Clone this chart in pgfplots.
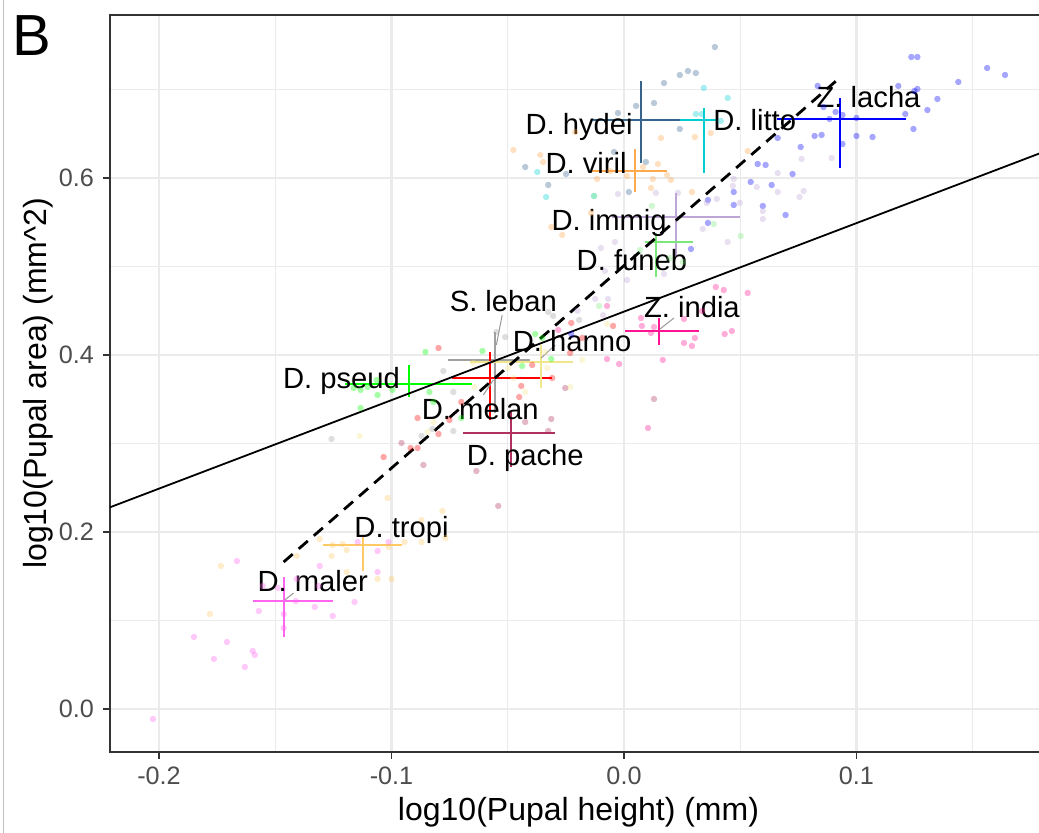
\documentclass[border=0pt]{standalone}
\usepackage{pgfplots}
\pgfplotsset{compat=1.18}
\usepackage{fontspec}
\setmainfont{Liberation Sans}
\definecolor{chydei}{HTML}{36648B}
\definecolor{clitto}{HTML}{00CED1}
\definecolor{clacha}{HTML}{0000FF}
\definecolor{cviril}{HTML}{FFA94F}
\definecolor{cimmig}{HTML}{BDA6D6}
\definecolor{cfuneb}{HTML}{7CE87C}
\definecolor{cleban}{HTML}{A0A0A0}
\definecolor{cmelan}{HTML}{FF0000}
\definecolor{channo}{HTML}{F0E68C}
\definecolor{cpseud}{HTML}{00FF00}
\definecolor{cpache}{HTML}{B03060}
\definecolor{cindia}{HTML}{FF1493}
\definecolor{ctropi}{HTML}{FFC966}
\definecolor{cmaler}{HTML}{FF66F0}
\definecolor{gridc}{HTML}{EBEBEB}
\definecolor{framec}{HTML}{333333}
\definecolor{tickc}{HTML}{4D4D4D}
\newcommand{\pts}[2]{\addplot[only marks, mark=*, mark size=1.6pt, color=#1, mark options={draw opacity=0, fill=#1, fill opacity=0.35}, forget plot] coordinates {#2};}
\newcommand{\crossbar}[7]{%
  \addplot[#1, line width=1pt, forget plot] coordinates {(#4,#3) (#5,#3)};
  \addplot[#1, line width=1pt, forget plot] coordinates {(#2,#6) (#2,#7)};}
\newcommand{\seg}[4]{\addplot[color=black!40, line width=0.5pt, forget plot] coordinates {(#1,#2) (#3,#4)};}
\newcommand{\labfont}{\fontsize{14.6}{16}\selectfont}
\newcommand{\lab}[3]{\node[anchor=base, inner sep=0pt, font=\labfont] at (axis cs:#1,#2) {#3};}
\begin{document}
\begin{tikzpicture}
\path[use as bounding box] (0,0) rectangle (519.5pt,416.5pt);
\draw[black!25, line width=0.5pt] (1.6pt,0) -- (1.6pt,416.5pt);
\node[anchor=base west, inner sep=0pt, font=\fontsize{29}{30}\selectfont] at (6pt,388.5pt) {B};
\begin{axis}[
  at={(55pt,40.5pt)}, anchor=south west,
  scale only axis, width=466pt, height=368.5pt,
  xmin=-0.2211, xmax=0.1798, ymin=-0.0486, ymax=0.7842,
  xtick={-0.2,-0.1,0,0.1}, xticklabels={-0.2,-0.1,0.0,0.1},
  ytick={0,0.2,0.4,0.6}, yticklabels={0.0,0.2,0.4,0.6},
  minor xtick={-0.15,-0.05,0.05,0.15}, minor ytick={0.1,0.3,0.5,0.7},
  grid=both,
  major grid style={gridc, line width=1.1pt},
  minor grid style={gridc, line width=0.55pt},
  minor tick length=0pt,
  tick align=outside, major tick length=3.3pt, tick pos=left,
  tick style={framec, line width=0.8pt},
  axis line style={framec, line width=0.8pt},
  ticklabel style={font=\fontsize{12.6}{14}\selectfont, text=tickc},
  xticklabel style={anchor=base, yshift=-13pt},
  yticklabel style={anchor=east, inner sep=0pt, xshift=-4.5pt},
  xlabel={log10(Pupal height) (mm)},
  ylabel={log10(Pupal area) (mm\textasciicircum 2)},
  label style={font=\fontsize{16}{18}\selectfont},
  xlabel style={at={(axis description cs:0.5027,-0.0936)}, anchor=base},
  ylabel style={at={(axis description cs:-0.0676,0.5)}, anchor=base},
  clip=true,
]
% ---- raw points ----
\pts{chydei}{(0.0391,0.748) (0.0240,0.7164) (0.0275,0.7209) (0.0309,0.7186) (0.0172,0.7073) (0.0129,0.6847) (0.0052,0.6814) (-0.0026,0.6734) (0.0240,0.6554) (0.0094,0.6181) (-0.0043,0.6294) (0.0021,0.5842) (-0.0326,0.5921) (-0.0425,0.6124) (-0.0249,0.6045)}
\pts{clitto}{(0.0343,0.7017) (0.0446,0.6904) (0.0309,0.6723) (0.0335,0.6723) (0.0416,0.6644) (-0.0373,0.6068) (-0.0335,0.5785) (-0.0129,0.5797)}
\pts{clacha}{(0.1236,0.7367) (0.1262,0.7367) (0.1562,0.7243) (0.1639,0.7164) (0.1438,0.7085) (0.0833,0.7040) (0.1180,0.7040) (0.1262,0.7006) (0.1249,0.6983) (0.1348,0.6893) (0.0910,0.6746) (0.0940,0.6712) (0.0884,0.6667) (0.1000,0.6678) (0.1210,0.6723) (0.1305,0.6768) (0.1245,0.6554) (0.0858,0.6802) (0.0820,0.6475) (0.0850,0.6486) (0.1000,0.6475) (0.1069,0.6463) (0.0940,0.6384) (0.0661,0.6452) (0.0760,0.6350) (0.0575,0.6158) (0.0609,0.6147) (0.0725,0.6045) (0.0545,0.5955) (0.0635,0.5921) (0.0472,0.5842) (0.0361,0.5751) (0.0472,0.5695) (0.0597,0.5684) (0.0695,0.5582) (0.0361,0.5492) (0.0288,0.5198) (-0.0227,0.4237)}
\pts{cviril}{(-0.0476,0.6316) (-0.0210,0.6520) (-0.0348,0.6181) (0.0159,0.6452) (0.0305,0.6463) (0.0373,0.6508) (0.0532,0.6305) (0.0082,0.6124) (0.0146,0.6158) (0.0013,0.6023) (-0.0116,0.5989) (0.0124,0.5989) (0.0185,0.6034) (0.0202,0.5977) (0.0116,0.5887) (0.0292,0.5842) (-0.0313,0.5446) (-0.0142,0.5605) (-0.0266,0.5356) (-0.0060,0.6079) (-0.0360,0.6260)}
\pts{cimmig}{(-0.0026,0.5819) (0.0137,0.5831) (0.0232,0.5831) (0.0399,0.5763) (0.0472,0.5989) (0.0468,0.5910) (0.0356,0.5718) (0.0498,0.5718) (0.0571,0.5898) (0.0661,0.6056) (0.0764,0.6215) (0.0773,0.5853) (0.0755,0.5785) (0.0597,0.5627) (0.0597,0.5537) (0.0661,0.5842) (0.0893,0.6226) (0.0446,0.5277) (0.0339,0.5424) (-0.0039,0.5277) (-0.0099,0.5209) (0.0013,0.4847) (-0.0082,0.4949) (-0.0069,0.4633) (-0.0124,0.4633) (0.0172,0.4915) (-0.0200,0.4500) (-0.0090,0.4450)}
\pts{cfuneb}{(0.0120,0.5684) (0.0386,0.5480) (0.0502,0.5345) (-0.0107,0.4554) (-0.0129,0.5797) (0.0197,0.5096) (0.0069,0.5186) (0.0253,0.5051)}
\pts{cleban}{(-0.0777,0.3819) (-0.0734,0.3582) (-0.0734,0.3141) (-0.1258,0.3051) (-0.0549,0.4260) (-0.0511,0.4203) (-0.0824,0.3164) (-0.0326,0.4486) (-0.0305,0.4441) (-0.0193,0.4395) (-0.0871,0.3085)}
\pts{cmelan}{(-0.0798,0.4079) (-0.0227,0.4362) (-0.0180,0.4192) (-0.0232,0.4023) (-0.0395,0.3887) (-0.0309,0.3740) (-0.0442,0.3650) (-0.0451,0.3525) (-0.0700,0.3469) (-0.0888,0.3288) (-0.0751,0.3266) (-0.0798,0.3107) (-0.0918,0.2949) (-0.0888,0.2949) (-0.1034,0.2847) (-0.0047,0.4328)}
\pts{channo}{(-0.0648,0.3910) (-0.0498,0.3853) (-0.0330,0.3853) (-0.0180,0.3944) (-0.0339,0.4034) (-0.0425,0.3582) (-0.0232,0.3638) (-0.0476,0.3740) (-0.0644,0.3638) (-0.0820,0.3243) (-0.0845,0.3130) (-0.1137,0.3085) (-0.0073,0.4350)}
\pts{cpseud}{(-0.1163,0.3627) (-0.1133,0.3605) (-0.1103,0.3638) (-0.1060,0.3548) (-0.0996,0.3605) (-0.1064,0.3718) (-0.1133,0.3401) (-0.0854,0.4034) (-0.0837,0.3582) (-0.0820,0.3469) (-0.0700,0.3288) (-0.0609,0.4045) (-0.0438,0.3876) (-0.0382,0.4237) (-0.0352,0.4192) (-0.0313,0.3955)}
\pts{cpache}{(-0.0253,0.3627) (-0.0313,0.3277) (-0.0425,0.3243) (-0.0326,0.3141) (-0.0635,0.2689) (-0.0541,0.2294) (-0.0863,0.2757) (-0.0957,0.3006) (0.0129,0.3503)}
\pts{cindia}{(0.0395,0.4768) (0.0429,0.4734) (0.0532,0.4701) (0.0073,0.4418) (0.0077,0.4328) (0.0129,0.4316) (0.0116,0.4249) (0.0258,0.4407) (0.0258,0.4136) (0.0305,0.4192) (0.0292,0.4102) (0.0433,0.4237) (0.0464,0.4271) (0.0167,0.3944) (0.0103,0.3175) (-0.0073,0.3955) (-0.0021,0.3898) (-0.0073,0.4554) (0.0335,0.4497) (-0.0283,0.4282)}
\pts{ctropi}{(-0.1309,0.1921) (-0.1253,0.1853) (-0.1210,0.1864) (-0.1193,0.1797) (-0.1258,0.1729) (-0.1408,0.1729) (-0.1193,0.1548) (-0.1060,0.1469) (-0.1000,0.1469) (-0.1013,0.1831) (-0.0944,0.1887) (-0.0871,0.1887) (-0.0768,0.1932) (-0.0781,0.2237) (-0.0871,0.2136) (-0.1017,0.2384) (-0.1734,0.1616) (-0.1781,0.1073)}
\pts{cmaler}{(-0.1665,0.1672) (-0.1309,0.1616) (-0.1408,0.1469) (-0.1554,0.1390) (-0.1489,0.1367) (-0.1313,0.1390) (-0.1412,0.1220) (-0.1330,0.1153) (-0.1159,0.1209) (-0.1253,0.1051) (-0.1571,0.1107) (-0.1464,0.1073) (-0.1464,0.0915) (-0.1850,0.0814) (-0.1708,0.0757) (-0.1764,0.0565) (-0.1597,0.0655) (-0.1588,0.0610) (-0.1631,0.0475) (-0.2026,-0.0113) (-0.1146,0.1887) (-0.1060,0.1785) (-0.1060,0.1548) (-0.1013,0.1887)}
% ---- species means with ranges ----
\crossbar{chydei}{0.0073}{0.6655}{-0.0133}{0.0240}{0.6169}{0.7096}
\crossbar{clitto}{0.0343}{0.6655}{0.0240}{0.0395}{0.6056}{0.6791}
\crossbar{clacha}{0.0927}{0.6667}{0.0657}{0.1215}{0.6113}{0.6904}
\crossbar{cviril}{0.0047}{0.6079}{-0.0137}{0.0185}{0.5842}{0.6328}
\crossbar{cimmig}{0.0223}{0.5559}{-0.0052}{0.0498}{0.5107}{0.5830}
\crossbar{cfuneb}{0.0137}{0.5277}{0.0090}{0.0296}{0.4881}{0.5379}
\crossbar{cleban}{-0.0554}{0.3944}{-0.0755}{-0.0403}{0.3345}{0.4260}
\crossbar{cmelan}{-0.0575}{0.3740}{-0.0738}{-0.0309}{0.3266}{0.4034}
\crossbar{channo}{-0.0356}{0.3921}{-0.0661}{-0.0219}{0.3627}{0.4113}
\crossbar{cpseud}{-0.0927}{0.3672}{-0.1200}{-0.0652}{0.3525}{0.3887}
\crossbar{cpache}{-0.0485}{0.3119}{-0.0691}{-0.0296}{0.2734}{0.3356}
\crossbar{cindia}{0.0150}{0.4271}{0.0004}{0.0322}{0.4113}{0.4418}
\crossbar{ctropi}{-0.1124}{0.1853}{-0.1296}{-0.0953}{0.1559}{0.1944}
\crossbar{cmaler}{-0.1464}{0.1220}{-0.1597}{-0.1253}{0.0814}{0.1492}
% ---- reference lines ----
\addplot[black, line width=0.9pt, forget plot] coordinates {(-0.2211,0.2279) (0.1798,0.6288)};
\addplot[black, line width=1.4pt, dash pattern=on 6pt off 4pt, forget plot] coordinates {(-0.1464,0.1661) (0.0927,0.7130)};
% ---- label segments ----
\seg{-0.0524}{0.4452}{-0.0549}{0.4113}
\seg{-0.0356}{0.3966}{-0.0296}{0.4113}
\seg{-0.0562}{0.3718}{-0.0605}{0.3548}
\seg{0.0155}{0.4294}{0.0215}{0.4418}
\seg{-0.1459}{0.1232}{-0.1421}{0.1311}
% ---- labels ----
\lab{-0.0193}{0.6497}{D. hydei}
\lab{0.0562}{0.6542}{D. litto}
\lab{0.1052}{0.6791}{Z. lacha}
\lab{-0.0163}{0.6056}{D. viril}
\lab{-0.0064}{0.5412}{D. immig}
\lab{0.0034}{0.4960}{D. funeb}
\lab{-0.0519}{0.4486}{S. leban}
\lab{-0.0223}{0.4045}{D. hanno}
\lab{-0.1215}{0.3616}{D. pseud}
\lab{-0.0618}{0.3266}{D. melan}
\lab{-0.0425}{0.2746}{D. pache}
\lab{0.0292}{0.4418}{Z. india}
\lab{-0.0957}{0.1932}{D. tropi}
\lab{-0.1339}{0.1322}{D. maler}
\end{axis}
\end{tikzpicture}
\end{document}
